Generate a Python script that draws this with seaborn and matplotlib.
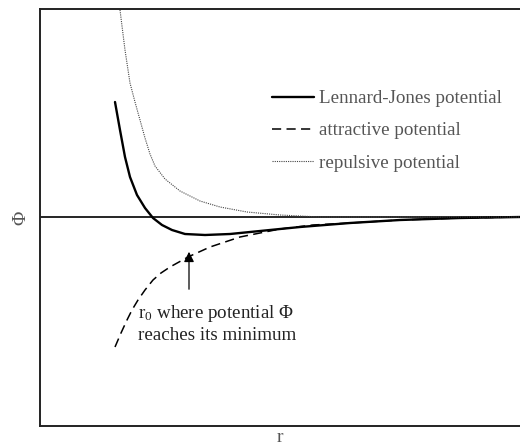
import matplotlib
matplotlib.use("Agg")
import matplotlib.pyplot as plt
import seaborn as sns

# points (r, phi) in arbitrary units
lj_r = [75, 80, 85, 90, 97, 105, 113, 122, 132, 145, 165, 190, 220, 260, 310, 360, 420, 480]
lj_phi = [115, 87, 60, 40, 22, 9, -1, -8, -13, -17, -18, -17, -14, -10, -6, -3, -1, 0]

rep_r = [80, 85, 90, 95, 100, 105, 110, 115, 125, 140, 160, 180, 207, 240, 280, 480]
rep_phi = [207, 167, 134, 115, 97, 79, 63, 51, 38, 26, 16, 10, 5, 2, 0, 0]

att_r = [75, 81, 87, 92, 98, 105, 113, 121, 130, 139, 148, 159, 170, 185, 200,
         220, 240, 273, 310, 360, 420, 480]
att_phi = [-130, -116, -103, -93, -83, -73, -63, -56, -50, -45, -40, -35, -30, -25, -20,
           -16, -12, -8, -6, -3, -1, 0]

labels = ["Lennard-Jones potential", "attractive potential", "repulsive potential"]

sns.set_style("white")
plt.rcParams["font.family"] = ["Liberation Serif", "DejaVu Serif"]
plt.rcParams["mathtext.fontset"] = "custom"
plt.rcParams["mathtext.rm"] = "Liberation Serif"
plt.rcParams["mathtext.it"] = "Liberation Serif"

fig = plt.figure(figsize=(5.2, 4.45), dpi=100)
ax = fig.add_axes([40 / 520, 19 / 445, 480 / 520, 417 / 445])

ax.axhline(0, color="black", lw=1.2, zorder=1)
sns.lineplot(x=lj_r, y=lj_phi, ax=ax, color="black", lw=1.7,
             solid_joinstyle="round", label=labels[0])
sns.lineplot(x=att_r, y=att_phi, ax=ax, color="black", lw=1.1,
             linestyle=(0, (6, 3.5)), label=labels[1])
sns.lineplot(x=rep_r, y=rep_phi, ax=ax, color="#444444", lw=0.8,
             linestyle=(0, (1, 1)), label=labels[2])

ax.set_xlim(0, 480)
ax.set_ylim(-209, 208)
ax.set_xticks([])
ax.set_yticks([])
for side in ["left", "top", "bottom"]:
    ax.spines[side].set_color("#222222")
    ax.spines[side].set_linewidth(1.4)
ax.spines["right"].set_visible(False)

ax.set_xlabel("r", fontsize=14, color="#555555", labelpad=2)
ax.set_ylabel("Φ", fontsize=14, color="#555555", labelpad=8)

leg = ax.legend(loc="upper left", bbox_to_anchor=(0.483, 0.806), frameon=False,
                fontsize=13.7, handlelength=2.2, handletextpad=0.3,
                labelspacing=0.78, borderpad=0, borderaxespad=0)
for t in leg.get_texts():
    t.set_color("#555555")

ax.annotate("", xy=(149, -32), xytext=(149, -75),
            arrowprops=dict(arrowstyle="-|>", color="black", lw=0.9,
                            mutation_scale=15))
ax.text(98, -86, "r$_0$ where potential Φ\nreaches its minimum", fontsize=13.7,
        color="#222222", va="top", ha="left", linespacing=1.2)

fig.savefig("out.png", dpi=100)
